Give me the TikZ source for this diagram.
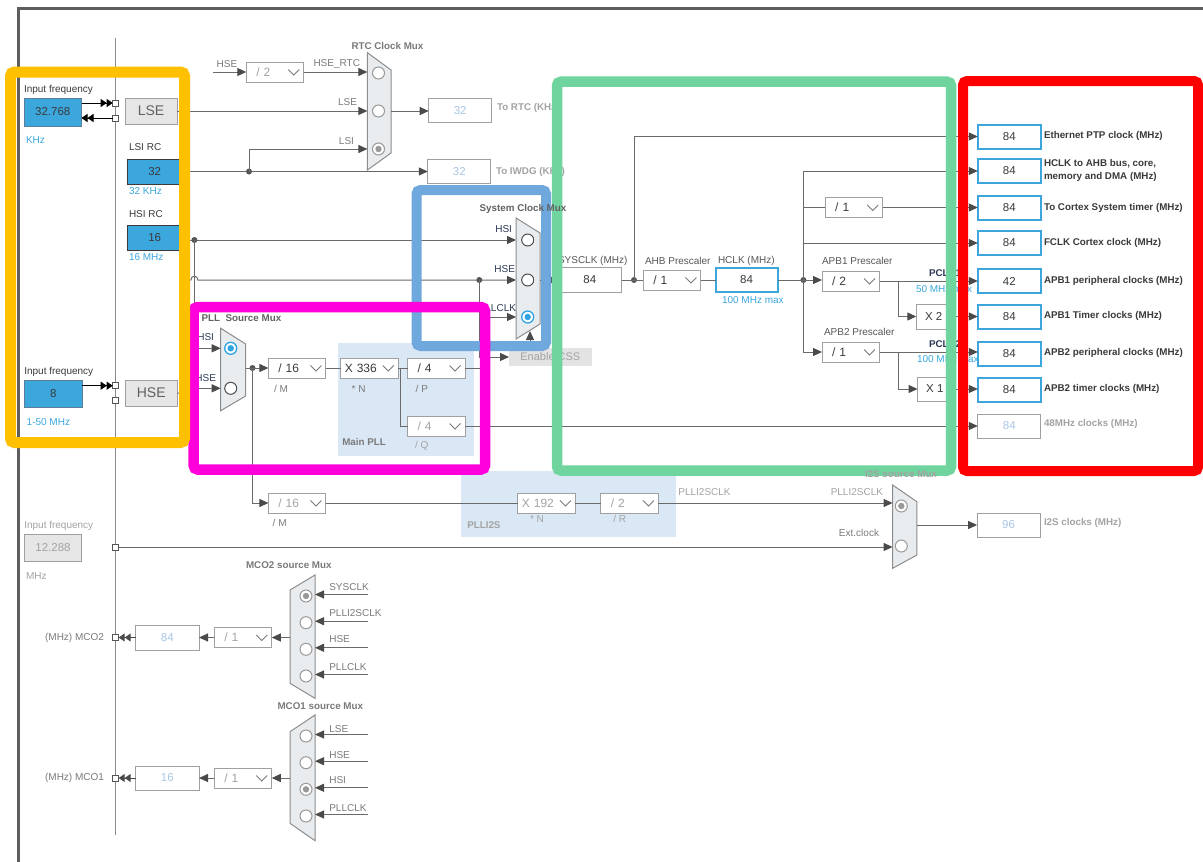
\documentclass[tikz,border=0pt]{standalone}
\usepackage{fontspec}
\setmainfont{Liberation Sans}
\usetikzlibrary{arrows.meta,calc}

\definecolor{wiregray}{HTML}{6A6A6A}
\definecolor{tipgray}{HTML}{4A4A4A}
\definecolor{busgray}{HTML}{8A8A8A}
\definecolor{boxgray}{HTML}{A0A0A0}
\definecolor{labgray}{HTML}{7A7A7A}
\definecolor{lightlab}{HTML}{A3A3A3}
\definecolor{darklab}{HTML}{3A3A3A}
\definecolor{navylab}{HTML}{2B3A55}
\definecolor{valtext}{HTML}{3A3A3A}
\definecolor{dimval}{HTML}{A9C6E6}
\definecolor{stblue}{HTML}{3BA7DD}
\definecolor{stborder}{HTML}{5B7F99}
\definecolor{selblue}{HTML}{2FA4E2}
\definecolor{muxfill}{HTML}{E9ECEF}
\definecolor{muxline}{HTML}{8C8C8C}
\definecolor{pllshade}{HTML}{DAE7F4}
\definecolor{framegray}{HTML}{5E5E5E}
\definecolor{grayfill}{HTML}{E6E6E6}
\definecolor{cssfill}{HTML}{E3E3E3}
\definecolor{maxblue}{HTML}{3BA5DC}
\definecolor{radiodark}{HTML}{4D4D4D}
\definecolor{radiolight}{HTML}{999999}
\definecolor{dotgray}{HTML}{555555}
\definecolor{fOrange}{HTML}{FFC000}
\definecolor{fBlue}{HTML}{6FA8DC}
\definecolor{fMagenta}{HTML}{FF00DD}
\definecolor{fGreen}{HTML}{70D49E}
\definecolor{fRed}{HTML}{FF0000}

\tikzset{
  every node/.style={inner sep=0pt, outer sep=0pt},
  lab/.style={font=\fontsize{10}{11}\selectfont, text=labgray},
  blab/.style={font=\fontsize{9.8}{11}\selectfont\bfseries, text=labgray},
  outlab/.style={font=\fontsize{9.8}{13}\selectfont\bfseries, text=darklab, anchor=west, align=left},
  wire/.style={draw=wiregray, line width=1pt},
  arr/.style={wire, -{Triangle[length=9pt,width=8pt,color=tipgray]}},
  darr/.style={draw=black, line width=1pt, -{Triangle[length=6pt,width=8pt]Triangle[length=6pt,width=8pt]}},
  dd/.style={draw=boxgray, fill=white, line width=1pt, text width=37.5pt, inner xsep=10pt, align=left, minimum height=20pt, font=\fontsize{12}{13}\selectfont, text=valtext},
  ddoff/.style={dd, text=lightlab},
  ddx/.style={dd, text width=49.5pt, inner xsep=4pt},
  ddxoff/.style={ddx, text=lightlab},
  chevst/.style={draw=labgray, line width=0.9pt},
  val/.style={draw=boxgray, fill=white, line width=1pt, minimum width=63pt, minimum height=24pt, font=\fontsize{11.5}{12}\selectfont, text=valtext},
  valon/.style={val, draw=maxblue, line width=2pt},
  valoff/.style={val, text=dimval},
  inblue/.style={fill=stblue, draw=stborder, line width=0.8pt, font=\fontsize{11.5}{12}\selectfont, text=darklab},
  grayin/.style={fill=grayfill, draw=boxgray, line width=1pt, font=\fontsize{14}{15}\selectfont, text=darklab!80},
  sq/.style={draw=dotgray, fill=white, line width=0.8pt, minimum size=6pt},
  dot/.style={circle, fill=dotgray, minimum size=6pt},
  mux/.style={fill=muxfill, draw=muxline, line width=1pt},
  radio/.style={circle, draw=radiodark, fill=white, line width=1pt, minimum size=12pt},
  radiog/.style={radio, draw=radiolight},
  radiosel/.style={radio, draw=selblue, line width=1.3pt, path picture={\fill[selblue] (path picture bounding box.center) circle (3.2pt);}},
  radiogsel/.style={radiog, path picture={\fill[radiolight] (path picture bounding box.center) circle (3.2pt);}},
  frame/.style={line width=10.5pt, rounded corners=4pt}
}
\newcommand{\chev}[1]{\draw[chevst] ([shift={(-15.5,-2.5)}]#1.east) -- ([shift={(-10,3)}]#1.east) -- ([shift={(-4.5,-2.5)}]#1.east);}

\begin{document}
\begin{tikzpicture}[x=1pt,y=-1pt]
\useasboundingbox (0,0) rectangle (1203,862);
\fill[white] (0,0) rectangle (1203,862);

% outer frame
\draw[framegray, line width=3pt] (1203,8) -- (18,8) -- (18,862);

% shaded PLL areas
\fill[pllshade] (338.3,342.7) rectangle (474,456);
\fill[pllshade] (460.5,471) rectangle (675.5,537.3);

% bus line
\coordinate (busT) at (115.7,38);
\coordinate (busB) at (115.7,835);
\draw[draw=busgray, line width=1pt] (busT) -- (busB);

% ---------- inputs ----------
\node[lab, text=darklab, anchor=west] (lsefl) at (24,90) {Input frequency};
\node[inblue, minimum width=57.5pt, minimum height=28pt] (lsef) at (52.75,112) {32.768};
\node[lab, text=stblue, anchor=west] (lsefu) at (26,140) {KHz};
\node[sq] (sqa) at (115.7,103) {};
\node[sq] (sqb) at (115.7,118) {};
\draw[darr] (lsef.east |- sqa) -- (sqa.west);
\draw[darr] (sqb.west) -- (lsef.east |- sqb);
\node[grayin, minimum width=52pt, minimum height=26pt] (lse) at (151,111) {LSE};

\node[lab, text=darklab, anchor=west] (lsil) at (129,147) {LSI RC};
\node[inblue, draw=darklab, minimum width=54.5pt, minimum height=25pt] (lsi) at (154.75,171.5) {32};
\node[lab, text=stblue, anchor=west] (lsiu) at (129,191) {32 KHz};
\node[lab, text=darklab, anchor=west] (hsil) at (129,214) {HSI RC};
\node[inblue, draw=darklab, minimum width=54.5pt, minimum height=25pt] (hsi) at (154.75,238) {16};
\node[lab, text=stblue, anchor=west] (hsiu) at (129,257) {16 MHz};

\node[lab, text=darklab, anchor=west] (hsefl) at (24.3,371.7) {Input frequency};
\node[inblue, minimum width=58pt, minimum height=26.6pt] (hsef) at (53.3,394) {8};
\node[lab, text=stblue, anchor=west] (hsefu) at (26.7,421.7) {1-50 MHz};
\node[sq] (sqc) at (115.7,385.7) {};
\node[sq] (sqd) at (115.7,400.7) {};
\draw[darr] (hsef.east |- sqc) -- (sqc.west);
\node[grayin, minimum width=52.3pt, minimum height=26pt] (hse) at (151.2,393) {HSE};

\node[lab, text=lightlab, anchor=west] (extfl) at (24.3,526) {Input frequency};
\node[grayin, text=lightlab, font=\fontsize{11.5}{12}\selectfont, minimum width=57.4pt, minimum height=27.4pt] (extf) at (53,548) {12.288};
\node[lab, text=lightlab, anchor=west] (extfu) at (26,576) {MHz};
\node[sq] (sqe) at (115.7,547) {};

% ---------- RTC ----------
\node[blab, text=labgray] (lrtcmux) at (387.5,45.7) {RTC Clock Mux};
\draw[mux] (367.4,52.7) -- (391,70) -- (391,153) -- (367.4,170) -- cycle;
\node[radiog] (rtc1) at (378.5,73) {};
\node[radiog] (rtc2) at (378.5,111) {};
\node[radiogsel] (rtc3) at (378.5,149) {};
\coordinate (rtcin1) at (367.4,72);
\coordinate (rtcin2) at (367.4,111);
\coordinate (rtcin3) at (367.4,149);
\coordinate (rtcout) at (391,111);
\coordinate (rtchsein) at (213,72);
\node[lab] (rtchse) at (227,64) {HSE};
\node[ddoff] (div2) at (275,72) {/ 2};
\chev{div2}
\draw[arr] (rtchsein) -- (div2.west);
\draw[arr] (div2.east) -- (rtcin1);
\node[lab, anchor=east] (lhsertc) at (360,64) {HSE\_RTC};
\draw[arr] (lse.east) -- (rtcin2);
\node[lab, anchor=east] (llse) at (357,102) {LSE};
\node[valoff] (tortc) at (460.2,110.5) {32};
\node[valoff] (toiwdg) at (459.3,171.5) {32};
\draw[arr] (rtcout) -- (tortc.west |- rtcout);
\draw[arr] (lsi.east) -- (toiwdg.west);
\node[dot] (dlsi) at (249,171.5) {};
\draw[arr] (dlsi.center) |- (rtcin3);
\node[lab, anchor=east] (llsi) at (354,141) {LSI};
\node[blab, text=lightlab, anchor=west] (ltortc) at (497,108) {To RTC (KHz)};
\node[blab, text=lightlab, anchor=west] (ltoiwdg) at (496,172) {To IWDG (KHz)};

% ---------- System clock mux ----------
\draw[mux] (516,218) -- (540,233) -- (540,324) -- (516,339) -- cycle;
\node[radio] (sys1) at (527.7,240) {};
\node[radio] (sys2) at (527.7,280) {};
\node[radiosel] (sys3) at (527.7,317) {};
\coordinate (sysin1) at (516,240);
\coordinate (sysin2) at (516,280);
\coordinate (sysin3) at (516,317);
\coordinate (sysout) at (540,280);
\coordinate (sysbot) at (530,331);
\node[lab, text=navylab, anchor=east] (lsyshsi) at (512,229) {HSI};
\node[lab, text=navylab, anchor=east] (lsyshse) at (515,269) {HSE};
\node[lab, text=navylab, anchor=east] (lsyspll) at (516,308) {PLLCLK};

\draw[arr] (hsi.east |- sysin1) -- (sysin1);
\node[dot] (dhsi) at (194.4,240) {};
\coordinate (hsea) at (184,280);
\coordinate (hopa) at (190.9,280);
\coordinate (hopb) at (197.9,280);
\draw[arr] (hse.east) -| (hsea) -- (hopa) .. controls +(0,-5) and +(0,-5) .. (hopb) -- (sysin2);
\node[dot] (dhse) at (479.3,280) {};
\node[fill=cssfill, minimum width=82.7pt, minimum height=18pt, font=\fontsize{11}{12}\selectfont, text=lightlab] (css) at (550.35,357) {Enable CSS};
\draw[arr] (dhse.center) |- (css.west);
\draw[arr] (css.north -| sysbot) -- (sysbot);

% ---------- PLL ----------
\node[blab, text=darklab!80, anchor=west] (lpllmux) at (201.7,318) {PLL\ \ Source Mux};
\draw[mux] (220.7,328.3) -- (245.7,344) -- (245.7,396) -- (220.7,410.7) -- cycle;
\node[radiosel] (pll1) at (230.7,348.3) {};
\node[radio] (pll2) at (230.7,388.3) {};
\coordinate (pllin1) at (220.7,348.3);
\coordinate (pllin2) at (220.7,388.3);
\coordinate (pllout) at (245.7,368);
\coordinate (hseb) at (184,388.3);
\node[lab, text=navylab, anchor=east] (lpllhsi) at (214,337) {HSI};
\node[lab, text=navylab, anchor=east] (lpllhse) at (216,378) {HSE};
\draw[arr] (dhsi.center) |- (pllin1);
\draw[arr] (hseb) -- (pllin2);
\node[dot] (dpll) at (252.5,368) {};
\draw[wire] (pllout) -- (dpll.center);
\node[dd] (divm) at (297.15,368) {/ 16};
\chev{divm}
\draw[arr] (dpll.center) -- (divm.west);
\node[lab, anchor=west] (ldivm) at (274,389) {/ M};
\node[ddx] (xn) at (369.5,368) {X 336};
\chev{xn}
\node[lab, anchor=west] (lxn) at (351.7,389) {* N};
\node[dd] (divp) at (436.35,368) {/ 4};
\chev{divp}
\node[lab, anchor=west] (ldivp) at (415.7,389) {/ P};
\node[ddoff] (divq) at (436.35,426) {/ 4};
\chev{divq}
\node[lab, text=lightlab, anchor=west] (ldivq) at (415,445.7) {/ Q};
\node[blab, text=labgray, anchor=west] (lmainpll) at (342.3,442) {Main PLL};
\draw[wire] (divm.east) -- (xn.west);
\draw[wire] (xn.east) -- (divp.west);
\coordinate (qb) at (400.7,368);
\draw[wire] (qb) |- (divq.west);
\coordinate (pllv) at (485,368);
\draw[arr] (divp.east) -- (pllv) |- (sysin3);

% ---------- PLLI2S ----------
\node[ddoff] (divm2) at (297.15,503) {/ 16};
\chev{divm2}
\draw[arr] (dpll.center) |- (divm2.west);
\node[lab, anchor=west] (ldivm2) at (272.7,522.7) {/ M};
\node[ddxoff] (xn2) at (546.65,503) {X 192};
\chev{xn2}
\node[ddoff] (rdiv) at (629.65,503) {/ 2};
\chev{rdiv}
\draw[wire] (divm2.east) -- (xn2.west);
\draw[wire] (xn2.east) -- (rdiv.west);
\node[lab, text=lightlab, anchor=west] (lxn2) at (530,519.3) {* N};
\node[lab, text=lightlab, anchor=west] (lrdiv) at (613.3,519.3) {/ R};
\node[blab, text=lightlab, anchor=west] (lplli2s) at (467.3,525) {PLLI2S};

\draw[mux] (892.6,485) -- (916.9,501.7) -- (916.9,555) -- (892.6,568.3) -- cycle;
\node[radiogsel] (i2s1) at (901.3,506) {};
\node[radiog] (i2s2) at (901.3,546) {};
\coordinate (i2sin1) at (892.6,503);
\coordinate (i2sin2) at (892.6,547);
\coordinate (i2sout) at (916.9,525);
\draw[arr] (rdiv.east) -- (i2sin1);
\node[lab, text=lightlab, anchor=west] (lpllclk1) at (678.4,491.7) {PLLI2SCLK};
\node[lab, text=lightlab, anchor=east] (lpllclk2) at (883,491.7) {PLLI2SCLK};
\node[lab, anchor=east] (lext) at (879,533.3) {Ext.clock};
\draw[arr] (sqe.east) -- (i2sin2);
\node[valoff] (i2s) at (1008.6,525) {96};
\draw[arr] (i2sout) -- (i2s.west);
\node[blab, text=lightlab, anchor=west] (li2s) at (1044,523) {I2S clocks (MHz)};

% ---------- SYSCLK / AHB / APB ----------
\node[val, minimum width=63.5pt, minimum height=25pt] (sysclk) at (589.85,280) {84};
\node[lab, text=darklab!85, anchor=west] (lsysclk) at (558,261) {SYSCLK (MHz)};
\draw[arr] (sysout) -- (sysclk.west);
\node[dot] (dsys) at (634,280) {};
\node[dd] (ahb) at (672.15,280) {/ 1};
\chev{ahb}
\draw[wire] (sysclk.east) -- (ahb.west);
\node[lab, text=darklab!85, anchor=west] (lahb) at (645,261) {AHB Prescaler};
\node[valon, minimum width=62pt] (hclk) at (746.5,280) {84};
\draw[wire] (ahb.east) -- (hclk.west);
\node[lab, text=darklab!85, anchor=west] (lhclk) at (718,261) {HCLK (MHz)};
\node[lab, text=stblue, anchor=west] (lhclkmax) at (722,300) {100 MHz max};
\node[dot] (dhclk) at (803.4,280) {};
\draw[wire] (hclk.east) -- (dhclk.center);

\node[valon] (eth) at (1009.3,136.5) {84};
\node[valon] (ahbo) at (1009.3,171) {84};
\node[valon] (cort) at (1009.3,207.5) {84};
\node[valon] (fclk) at (1009.3,243) {84};
\node[valon] (apb1p) at (1009.3,281) {42};
\node[valon] (apb1t) at (1009.3,316.5) {84};
\node[valon] (apb2p) at (1009.3,353.5) {84};
\node[valon] (apb2t) at (1009.3,390) {84};
\node[valoff] (c48) at (1009.3,426) {84};

\draw[arr] (dsys.center) |- (eth.west);
\coordinate (vtop) at (803.4,171);
\coordinate (vbot) at (803.4,352);
\draw[wire] (vtop) -- (vbot);
\draw[arr] (vtop) -- (ahbo.west);
\node[dd] (cdiv) at (853.95,207.5) {/ 1};
\chev{cdiv}
\draw[wire] (vtop |- cdiv) -- (cdiv.west);
\draw[arr] (cdiv.east) -- (cort.west);
\draw[arr] (vtop |- fclk) -- (fclk.west);

\node[dd] (apb1) at (850.75,281) {/ 2};
\chev{apb1}
\draw[arr] (dhclk.center) -- (apb1.west |- dhclk);
\node[lab, text=darklab!85, anchor=west] (lapb1) at (822,261) {APB1 Prescaler};
\draw[arr] (apb1.east) -- (apb1p.west);
\coordinate (b1) at (898.5,281);
\node[val, minimum width=34.7pt, minimum height=25pt] (x2) at (933.65,316.5) {X 2};
\draw[arr] (b1) |- (x2.west);
\draw[arr] (x2.east) -- (apb1t.west);
\node[blab, text=navylab, anchor=west] (lpclk1) at (929,272.7) {PCLK1};
\node[lab, text=stblue, anchor=west] (lpclk1max) at (916,289) {50 MHz max};

\node[dd] (apb2) at (850.75,352) {/ 1};
\chev{apb2}
\draw[arr] (vbot) -- (apb2.west);
\node[lab, text=darklab!85, anchor=west] (lapb2) at (824,332) {APB2 Prescaler};
\draw[arr] (apb2.east) -- (apb2.east -| apb2p.west);
\coordinate (b2) at (898.5,352);
\node[val, minimum width=34.5pt, minimum height=24pt] (x1) at (934.8,389) {X 1};
\draw[arr] (b2) |- (x1.west);
\draw[arr] (x1.east) -- (x1.east -| apb2t.west);
\node[blab, text=navylab, anchor=west] (lpclk2) at (929,344) {PCLK2};
\node[lab, text=stblue, anchor=west] (lpclk2max) at (917,359) {100 MHz max};

\draw[arr] (divq.east) -- (c48.west);

\node[outlab] (leth) at (1044,136) {Ethernet PTP clock (MHz)};
\node[outlab] (lahbo) at (1044,170) {HCLK to AHB bus, core,\\memory and DMA (MHz)};
\node[outlab] (lcort) at (1044,207.5) {To Cortex System timer (MHz)};
\node[outlab] (lfclk) at (1044,243) {FCLK Cortex clock (MHz)};
\node[outlab] (lapb1p) at (1044,281) {APB1 peripheral clocks (MHz)};
\node[outlab] (lapb1t) at (1044,316) {APB1 Timer clocks (MHz)};
\node[outlab] (lapb2p) at (1044,353) {APB2 peripheral clocks (MHz)};
\node[outlab] (lapb2t) at (1044,389) {APB2 timer clocks (MHz)};
\node[outlab, text=lightlab] (lc48) at (1044,424) {48MHz clocks (MHz)};

% ---------- MCO2 ----------
\node[blab, text=labgray] (lmco2) at (288.8,565) {MCO2 source Mux};
\draw[mux] (290,590) -- (315,575) -- (315,698.3) -- (290,683.3) -- cycle;
\node[radiogsel] (m2r1) at (306,596) {};
\node[radiog] (m2r2) at (306,622.7) {};
\node[radiog] (m2r3) at (306,649.3) {};
\node[radiog] (m2r4) at (306,676) {};
\foreach \i/\yy in {a/594.5,b/621.2,c/647.8,d/674.5}{
  \coordinate (m2s\i) at (368,\yy);
  \coordinate (m2e\i) at (315,\yy);
  \draw[arr] (m2s\i) -- (m2e\i);
}
\node[lab, anchor=west] (lm2a) at (329.3,586.7) {SYSCLK};
\node[lab, anchor=west] (lm2b) at (329.3,613.3) {PLLI2SCLK};
\node[lab, anchor=west] (lm2c) at (329.3,639.3) {HSE};
\node[lab, anchor=west] (lm2d) at (329.3,666.7) {PLLCLK};
\coordinate (m2out) at (290,637.5);
\node[ddoff] (mco2div) at (243,637.5) {/ 1};
\chev{mco2div}
\draw[arr] (m2out) -- (mco2div.east);
\node[valoff, minimum width=63.3pt, minimum height=25pt] (mco2v) at (167.35,637.5) {84};
\draw[arr] (mco2div.west) -- (mco2v.east);
\node[sq] (sqf) at (115.7,637.5) {};
\draw[darr, draw=tipgray] (mco2v.west) -- (sqf.east);
\node[lab, anchor=east] (lmco2o) at (104,637.5) {(MHz) MCO2};

% ---------- MCO1 ----------
\node[blab, text=labgray] (lmco1) at (320.3,705.7) {MCO1 source Mux};
\draw[mux] (290,731.7) -- (315,715) -- (315,840.7) -- (290,823.3) -- cycle;
\node[radiog] (m1r1) at (306,736) {};
\node[radiog] (m1r2) at (306,762.7) {};
\node[radiogsel] (m1r3) at (306,789.3) {};
\node[radiog] (m1r4) at (306,816) {};
\foreach \i/\yy in {a/734.5,b/761.2,c/787.8,d/814.5}{
  \coordinate (m1s\i) at (368,\yy);
  \coordinate (m1e\i) at (315,\yy);
  \draw[arr] (m1s\i) -- (m1e\i);
}
\node[lab, anchor=west] (lm1a) at (329.3,729) {LSE};
\node[lab, anchor=west] (lm1b) at (329.3,755.3) {HSE};
\node[lab, anchor=west] (lm1c) at (329.3,780) {HSI};
\node[lab, anchor=west] (lm1d) at (329.3,808.3) {PLLCLK};
\coordinate (m1out) at (290,778);
\node[ddoff] (mco1div) at (243,778) {/ 1};
\chev{mco1div}
\draw[arr] (m1out) -- (mco1div.east);
\node[valoff, minimum width=63.3pt, minimum height=24pt] (mco1v) at (167.35,778) {16};
\draw[arr] (mco1div.west) -- (mco1v.east);
\node[sq] (sqg) at (115.7,778) {};
\draw[darr, draw=tipgray] (mco1v.west) -- (sqg.east);
\node[lab, anchor=east] (lmco1o) at (104,778) {(MHz) MCO1};

% ---------- highlight frames ----------
\draw[fBlue, frame, line width=10pt] (416.5,190) rectangle (546,346);
\draw[fGreen, frame] (557,81.7) rectangle (951,470.5);
\draw[fMagenta, frame] (193.7,307) rectangle (485,469.5);
\draw[fOrange, frame, line width=11pt] (10.5,72) rectangle (184.5,442.5);
\draw[fRed, frame, line width=10pt] (963,81) rectangle (1198,471);

% labels printed over the frames
\node[blab, text=labgray!80!black] (lsysmux) at (523,209) {System Clock Mux};
\node[blab, text=lightlab] (li2smux) at (901,474) {I2S source Mux};
\end{tikzpicture}
\end{document}
